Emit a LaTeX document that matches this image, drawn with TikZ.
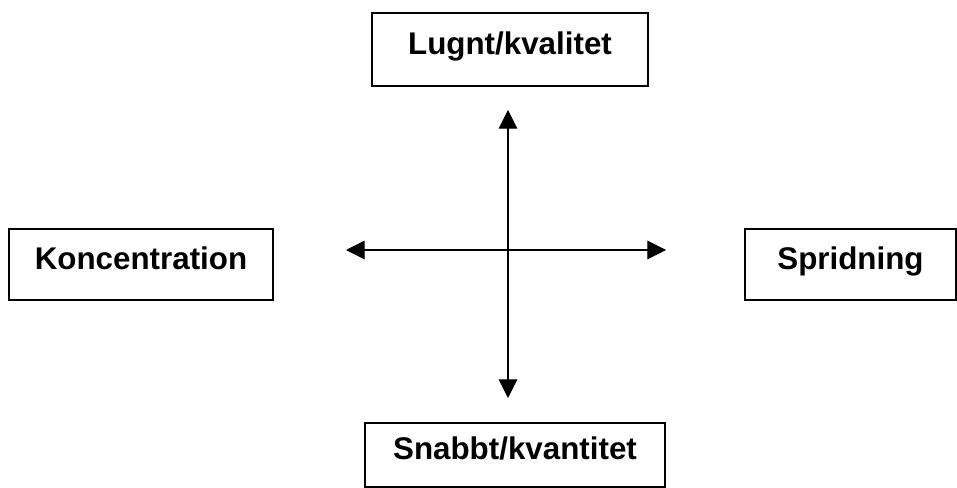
\documentclass[tikz,border=0pt]{standalone}
\usepackage{fontspec}
\setmainfont{Liberation Sans}
\usetikzlibrary{arrows.meta}

\begin{document}
\begin{tikzpicture}[x=0.75pt, y=-0.75pt,
		box/.style={draw, line width=1.1pt, inner sep=0pt, font=\fontsize{23.5pt}{28pt}\selectfont\bfseries,
			text height=17pt, text depth=10pt},
		axis/.style={line width=0.8pt, {Triangle[length=14pt, width=14pt]}-{Triangle[length=14pt, width=14pt]}}]
		
		\useasboundingbox (0,0) rectangle (957,488);
		
		% Boxes
		\node[box, minimum width=207pt, minimum height=54.75pt] (lugnt) at (510, 49.5) {Lugnt/kvalitet};
		\node[box, minimum width=198pt, minimum height=53.25pt] (konc) at (141, 264.5) {Koncentration};
		\node[box, minimum width=158.25pt, minimum height=53.25pt] (sprid) at (850.5, 264.5) {Spridning};
		\node[box, minimum width=225pt, minimum height=48pt] (snabbt) at (515, 455) {Snabbt/kvantitet};
		
		% Arrows
		\coordinate (up) at (508, 110);
		\coordinate (down) at (508, 398);
		\coordinate (left) at (346, 250);
		\coordinate (right) at (666, 250);
		\draw[axis] (down) -- (up);
		\draw[axis] (left) -- (right);
		
	\end{tikzpicture}
\end{document}
